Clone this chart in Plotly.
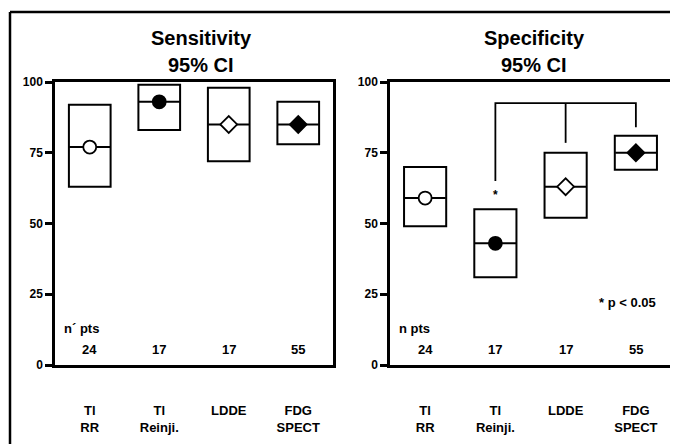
import plotly.graph_objects as go

# ---- data ----
categories = ["Tl<br>RR", "Tl<br>Reinji.", "LDDE", "FDG<br>SPECT"]
n_pts = [24, 17, 17, 55]

sens_mid = [77, 93, 85, 85]
sens_low = [63, 83, 72, 78]
sens_high = [92, 99, 98, 93]

spec_mid = [59, 43, 63, 75]
spec_low = [49, 31, 52, 69]
spec_high = [70, 55, 75, 81]

marker_symbols = ["circle", "circle", "diamond", "diamond"]
marker_fills = ["white", "black", "white", "black"]

bracket_cats = [1, 2, 3]
bracket_ends = [65, 78.5, 84]
bracket_level = 92.5
star_cat, star_val = 1, 60

W, H = 678, 444
OFF = 8  # page body margin
FONT = "Liberation Sans, Arial, Helvetica, sans-serif"

def px(x):
    return (x - OFF) / W

def py(y):
    return (H - (y - OFF)) / H

fig = go.Figure()
xs = list(range(len(categories)))

def add_panel(mid, low, high, xa, ya):
    fig.add_trace(go.Bar(
        x=xs, y=[h - l for h, l in zip(high, low)], base=low, width=0.6,
        marker=dict(color="white", line=dict(color="black", width=2)),
        xaxis=xa, yaxis=ya, showlegend=False, hoverinfo="skip"))
    fig.add_trace(go.Scatter(
        x=xs, y=mid, mode="markers",
        marker=dict(symbol="line-ew", size=29.5, line=dict(color="black", width=2)),
        xaxis=xa, yaxis=ya, showlegend=False, hoverinfo="skip"))
    fig.add_trace(go.Scatter(
        x=xs, y=mid, mode="markers",
        marker=dict(symbol=marker_symbols, size=13, color=marker_fills,
                    line=dict(color="black", width=1.8)),
        xaxis=xa, yaxis=ya, showlegend=False))

add_panel(sens_mid, sens_low, sens_high, "x", "y")
add_panel(spec_mid, spec_low, spec_high, "x2", "y2")

# bracket in specificity panel
bx, by = [], []
bx += [bracket_cats[0], bracket_cats[0], bracket_cats[-1], bracket_cats[-1], None]
by += [bracket_ends[0], bracket_level, bracket_level, bracket_ends[-1], None]
for c, e in zip(bracket_cats[1:-1], bracket_ends[1:-1]):
    bx += [c, c, None]
    by += [bracket_level, e, None]
fig.add_trace(go.Scatter(x=bx, y=by, mode="lines", line=dict(color="black", width=1.8),
                         xaxis="x2", yaxis="y2", showlegend=False, hoverinfo="skip"))

ydom = [py(365), py(82)]
axis_common = dict(showline=True, linewidth=2.5, linecolor="black", mirror=True,
                   showgrid=False, zeroline=False, automargin=False)
xcommon = dict(axis_common, range=[-0.5, 3.5], tickvals=xs, ticktext=categories,
               ticks="", ticklabelstandoff=32,
               tickfont=dict(family=FONT, size=13, color="black", weight="bold"))
ycommon = dict(axis_common, range=[0, 100], tickvals=[0, 25, 50, 75, 100],
               ticks="outside", ticklen=7, tickwidth=2.5, tickcolor="black",
               tickfont=dict(family=FONT, size=12, color="black", weight="bold"))

fig.update_layout(
    template="none",
    width=W, height=H, margin=dict(l=0, r=0, t=0, b=0, autoexpand=False),
    paper_bgcolor="white", plot_bgcolor="white", barmode="overlay",
    xaxis=dict(xcommon, domain=[px(55), px(333)], anchor="y"),
    yaxis=dict(ycommon, domain=ydom, anchor="x"),
    xaxis2=dict(xcommon, domain=[px(390), px(671)], anchor="y2"),
    yaxis2=dict(ycommon, domain=ydom, anchor="x2"),
)

bold = lambda s: dict(family=FONT, size=s, color="black", weight="bold")
ann = []
# titles
for xc, t1, t2 in [(201, "Sensitivity", "95% CI"), (534, "Specificity", "95% CI")]:
    ann.append(dict(x=px(xc), y=py(38), xref="paper", yref="paper", text=t1,
                    showarrow=False, font=bold(20), xanchor="center", yanchor="middle"))
    ann.append(dict(x=px(xc), y=py(65), xref="paper", yref="paper", text=t2,
                    showarrow=False, font=bold(20), xanchor="center", yanchor="middle"))
# n pts labels and counts
for xr, yr, lab in [("x", "y", "n´ pts"), ("x2", "y2", "n pts")]:
    ann.append(dict(x=-0.4, y=13, xref=xr, yref=yr, text=lab, showarrow=False,
                    font=bold(13), xanchor="left", yanchor="middle"))
    for i, n in enumerate(n_pts):
        ann.append(dict(x=xs[i], y=5.5, xref=xr, yref=yr, text=str(n), showarrow=False,
                        font=bold(13), xanchor="center", yanchor="middle"))
ann.append(dict(x=star_cat, y=star_val, xref="x2", yref="y2", text="*", showarrow=False,
                font=bold(12), xanchor="center", yanchor="middle"))
ann.append(dict(x=3.31, y=22, xref="x2", yref="y2", text="* p < 0.05", showarrow=False,
                font=bold(13), xanchor="right", yanchor="middle"))
fig.update_layout(annotations=ann)

# outer frame (left and top edges)
fig.add_shape(type="line", xref="paper", yref="paper", x0=px(10), x1=px(10), y0=0,
              y1=py(12), line=dict(color="black", width=2.5))
fig.add_shape(type="line", xref="paper", yref="paper", x0=px(10), x1=1, y0=py(12),
              y1=py(12), line=dict(color="black", width=2.5))

fig.write_html("out.html")
